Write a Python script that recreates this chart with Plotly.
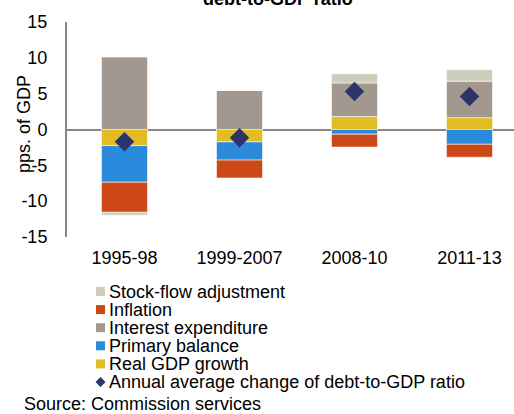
import plotly.graph_objects as go

periods = ["1995-98", "1999-2007", "2008-10", "2011-13"]
real_gdp_growth = [-2.25, -1.73, 1.8, 1.65]
primary_balance = [-5.1, -2.54, -0.65, -2.06]
interest_expenditure = [10.1, 5.45, 4.7, 5.1]
inflation = [-4.2, -2.5, -1.8, -1.8]
stock_flow_adjustment = [-0.4, 0.0, 1.27, 1.6]
annual_change = [-1.7, -1.15, 5.3, 4.6]

legend_names = ["Stock-flow adjustment", "Inflation", "Interest expenditure",
                "Primary balance", "Real GDP growth",
                "Annual average change of debt-to-GDP ratio"]
y_ticks = [-15, -10, -5, 0, 5, 10, 15]
y_tick_text = ["-15", "-10", "-5", "0", "5", "10", "15"]

C_SFA = "#CECDB9"
C_INF = "#CC4816"
C_INT = "#A39890"
C_PB = "#2A8ADC"
C_GDP = "#E2BC22"
C_DIA = "#2D3467"

W, H = 514, 414
L, R, T, B = 67, 0, 22, 177
PW, PH = W - L - R, H - T - B
FONT = "Liberation Sans, Arial, sans-serif"
FS = 18
FS_LEG = 18


def px_x(px):
    return (px - L) / PW


def px_y(py):
    return (H - B - py) / PH


fig = go.Figure()
bar_line = dict(color="rgba(255,255,255,0.7)", width=0.8)
for name, vals, col in [
    ("Real GDP growth", real_gdp_growth, C_GDP),
    ("Primary balance", primary_balance, C_PB),
    ("Interest expenditure", interest_expenditure, C_INT),
    ("Inflation", inflation, C_INF),
    ("Stock-flow adjustment", stock_flow_adjustment, C_SFA),
]:
    fig.add_trace(go.Bar(x=periods, y=vals, name=name, marker_color=col,
                         marker_line=bar_line, width=0.4, showlegend=False))

fig.add_trace(go.Scatter(x=periods, y=annual_change, mode="markers",
                         name=legend_names[-1],
                         marker=dict(symbol="diamond", size=15, color=C_DIA),
                         showlegend=False))

step = 115.0
fig.update_layout(
    width=W, height=H,
    margin=dict(l=L, r=R, t=T, b=B),
    barmode="relative",
    plot_bgcolor="white", paper_bgcolor="white",
    font=dict(family=FONT, size=FS, color="black"),
    xaxis=dict(type="category", range=[-0.5, -0.5 + PW / step],
               showline=False, showgrid=False, automargin=False,
               zeroline=False, ticks="", ticklabelstandoff=8,
               tickfont=dict(size=FS)),
    yaxis=dict(range=[-15, 15], tickvals=y_ticks, ticktext=y_tick_text,
               showgrid=False, automargin=False,
               showline=True, linecolor="#878787", linewidth=2,
               zeroline=True, zerolinecolor="#878787", zerolinewidth=2,
               ticks="", ticklabelstandoff=14, tickfont=dict(size=FS)),
    showlegend=False,
)

ann = []
# title (partially cut off at the top)
ann.append(dict(text="<b>debt-to-GDP ratio</b>", x=px_x(278), y=px_y(-1),
                xref="paper", yref="paper", xanchor="center", yanchor="middle",
                showarrow=False, font=dict(size=FS)))
# y axis title
ann.append(dict(text="pps. of GDP", x=px_x(24), y=px_y(124), textangle=-90,
                xref="paper", yref="paper", xanchor="center", yanchor="middle",
                showarrow=False, font=dict(size=FS)))
# source
ann.append(dict(text="Source: Commission services", x=px_x(22), y=px_y(404),
                xref="paper", yref="paper", xanchor="left", yanchor="middle",
                showarrow=False, font=dict(size=FS)))

shapes = []
legend_cols = [C_SFA, C_INF, C_INT, C_PB, C_GDP, C_DIA]
row0, dy = 291.5, 18.1
for i, (nm, col) in enumerate(zip(legend_names, legend_cols)):
    cy = row0 + i * dy
    ann.append(dict(text=nm, x=px_x(107), y=px_y(cy), xref="paper", yref="paper",
                    xanchor="left", yanchor="middle", showarrow=False,
                    font=dict(size=FS_LEG)))
    if i < 5:
        shapes.append(dict(type="rect", xref="paper", yref="paper",
                           x0=px_x(96), x1=px_x(105), y0=px_y(cy + 4.5),
                           y1=px_y(cy - 4.5), fillcolor=col, line_width=0))
    else:
        cx = 100.5
        r = 5
        path = (f"M {px_x(cx - r)} {px_y(cy)} L {px_x(cx)} {px_y(cy - r)} "
                f"L {px_x(cx + r)} {px_y(cy)} L {px_x(cx)} {px_y(cy + r)} Z")
        shapes.append(dict(type="path", xref="paper", yref="paper", path=path,
                           fillcolor=col, line_width=0))

fig.update_layout(annotations=ann, shapes=shapes)
fig.write_html("out.html",
               config={"displayModeBar": False},
               post_script="document.body.style.margin='0';"
                           "document.body.style.overflow='hidden';")
